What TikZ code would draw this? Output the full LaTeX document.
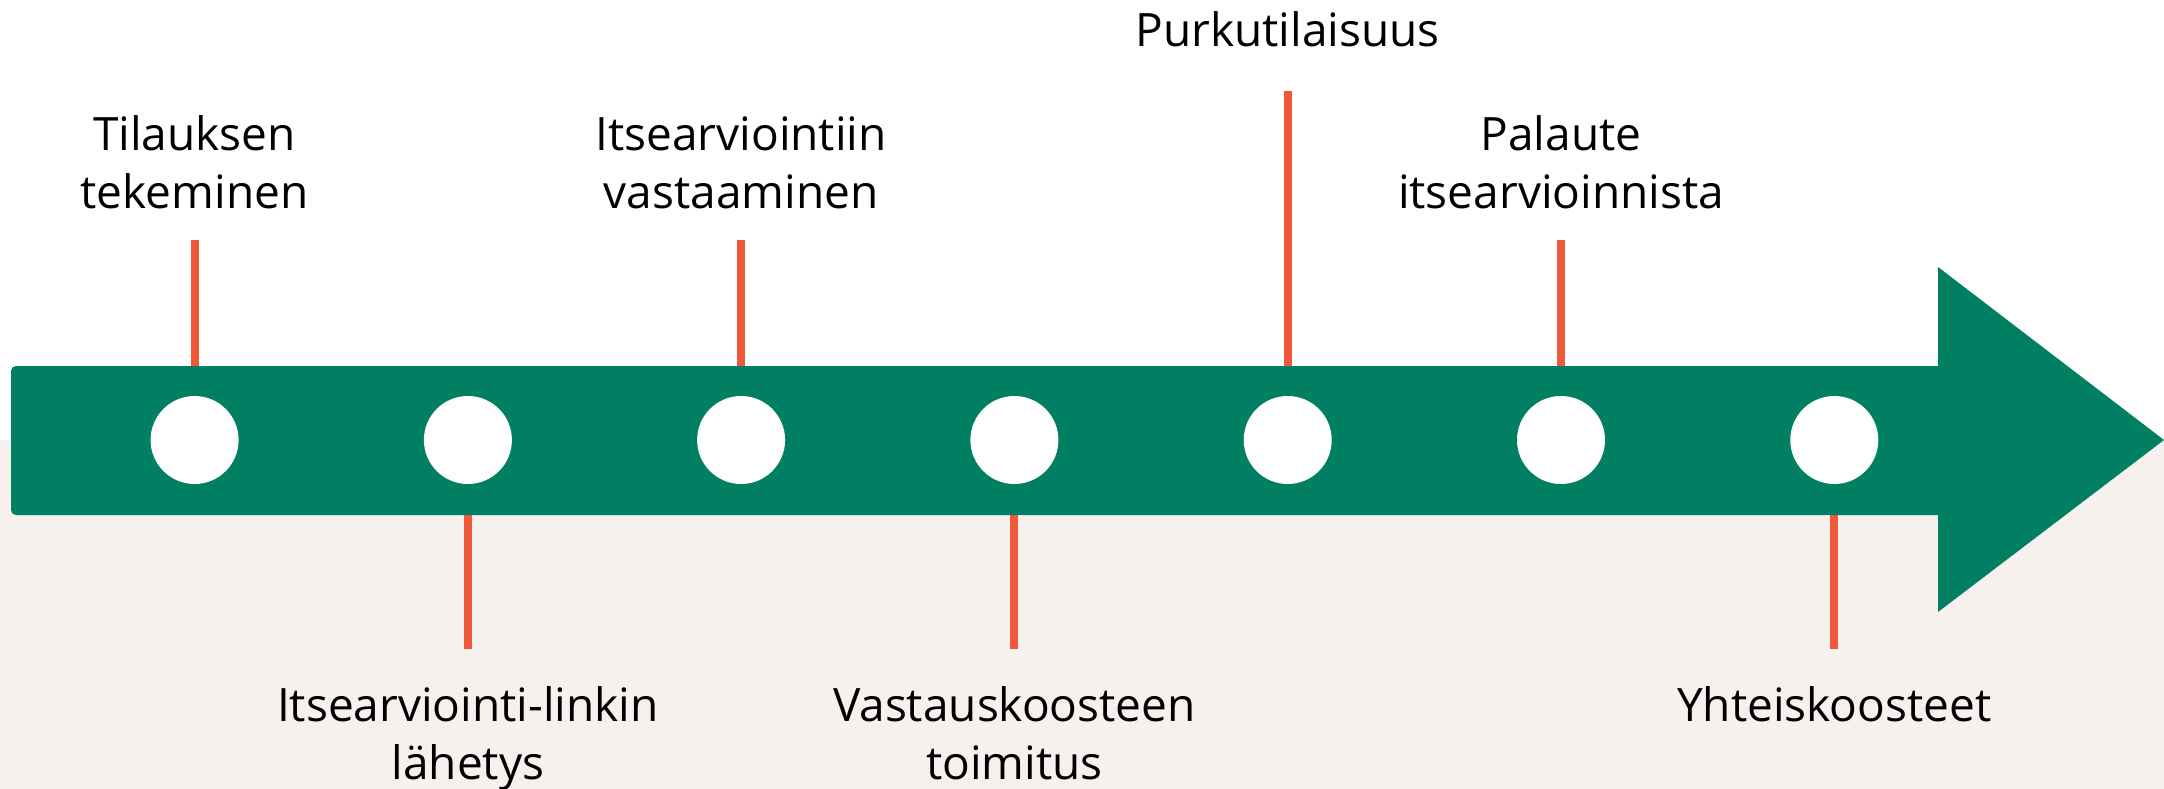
\documentclass[tikz,border=0pt]{standalone}
\usepackage{fontspec}
\setmainfont{Open Sans}
\definecolor{tlgreen}{HTML}{007F63}
\definecolor{tlred}{HTML}{F0583C}
\definecolor{tlbeige}{HTML}{F6F1EF}
\begin{document}
\begin{tikzpicture}[x=1pt,y=-1pt,
  tick/.style={draw=tlred,line width=8pt},
  dot/.style={circle,fill=white,minimum size=88pt,inner sep=0pt},
  lbl/.style={align=center,font=\fontsize{46}{57.5}\selectfont,inner sep=0pt,anchor=base,text=black}]
\useasboundingbox (0,0) rectangle (2164,789);
\fill[white] (0,0) rectangle (2164,440);
\fill[tlbeige] (0,440) rectangle (2164,789);
% tick end points
\coordinate (t1) at (194.6,240);
\coordinate (t2) at (467.9,649);
\coordinate (t3) at (741.1,240);
\coordinate (t4) at (1014.4,649);
\coordinate (t5) at (1287.7,91);
\coordinate (t6) at (1561,240);
\coordinate (t7) at (1834.3,649);
% circles
\node[dot] (c1) at (194.6,440) {};
\node[dot] (c2) at (467.9,440) {};
\node[dot] (c3) at (741.1,440) {};
\node[dot] (c4) at (1014.4,440) {};
\node[dot] (c5) at (1287.7,440) {};
\node[dot] (c6) at (1561,440) {};
\node[dot] (c7) at (1834.3,440) {};
% ticks
\draw[tick] (t1) -- (c1.center);
\draw[tick] (t2) -- (c2.center);
\draw[tick] (t3) -- (c3.center);
\draw[tick] (t4) -- (c4.center);
\draw[tick] (t5) -- (c5.center);
\draw[tick] (t6) -- (c6.center);
\draw[tick] (t7) -- (c7.center);
% arrow body
\fill[tlgreen] (1938,366) -- (1938,267) -- (2164,440) -- (1938,612) -- (1938,515)
  {[rounded corners=5pt] -- (11,515) -- (11,366)} -- cycle;
% circles on top
\foreach \n in {c1,c2,c3,c4,c5,c6,c7} \fill[white] (\n) circle (44pt);
% labels (anchor base = baseline of the last line)
\node[lbl] (l1) at (194.6,208) {Tilauksen\\tekeminen};
\node[lbl] (l2) at (467.9,779) {Itsearviointi-linkin\\lähetys};
\node[lbl] (l3) at (741.1,208) {Itsearviointiin\\vastaaminen};
\node[lbl] (l4) at (1014.4,779) {Vastauskoosteen\\toimitus};
\node[lbl] (l5) at (1287.7,47) {Purkutilaisuus};
\node[lbl] (l6) at (1561,208) {Palaute\\itsearvioinnista};
\node[lbl] (l7) at (1834.3,721) {Yhteiskoosteet};
\end{tikzpicture}
\end{document}
